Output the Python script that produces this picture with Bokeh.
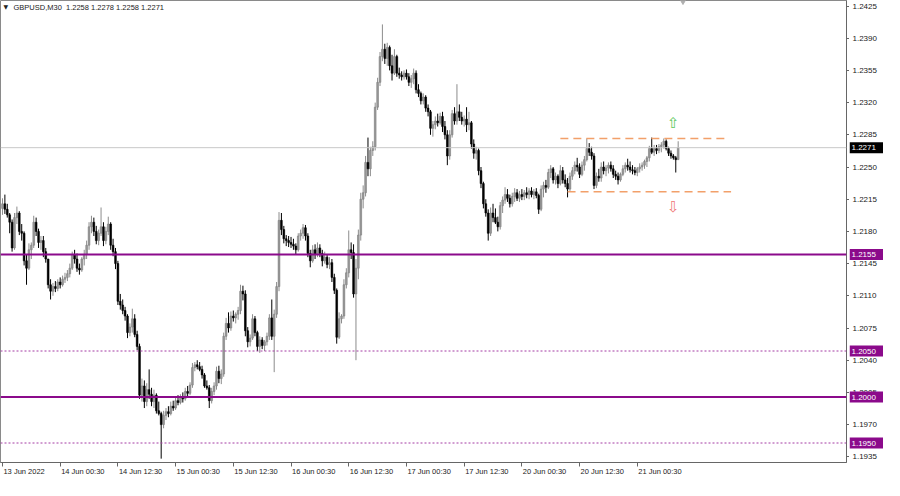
from bokeh.plotting import figure
from bokeh.layouts import row
from bokeh.models import ColumnDataSource, FixedTicker, Span, Label, Range1d, LinearAxis
from bokeh.core.properties import value
from bokeh.embed import file_html
from bokeh.resources import INLINE

symbol = "GBPUSD,M30"

# M30 candles, prices written as the last four digits (2205 -> 1.2205)
opens = [
    2205,2210,2204,2198,2190,2162,2195,2200,2180,2178,2148,2140,
    2160,2165,2190,2180,2168,2170,2158,2150,2122,2115,2120,2118,
    2125,2122,2128,2130,2134,2140,2155,2150,2140,2138,2150,2155,
    2165,2185,2190,2180,2170,2178,2185,2170,2180,2188,2165,2158,
    2145,2104,2100,2094,2088,2070,2076,2085,2068,2055,2002,2012,
    1995,2008,2003,1995,2002,1985,1982,1970,1980,1984,1982,1990,
    1988,1996,1994,2000,1998,2006,2004,2013,2032,2035,2033,2030,
    2024,2012,2010,1996,2006,2012,2028,2020,2025,2066,2080,2075,
    2088,2086,2090,2094,2115,2112,2072,2060,2064,2085,2070,2055,
    2062,2056,2060,2066,2086,2066,2090,2120,2192,2182,2172,2170,
    2168,2166,2164,2160,2175,2178,2184,2175,2156,2148,2160,2155,
    2162,2156,2148,2152,2144,2146,2130,2116,2065,2085,2088,2122,
    2135,2160,2157,2112,2140,2176,2215,2222,2255,2248,2268,2272,
    2315,2342,2370,2378,2368,2380,2360,2352,2370,2352,2350,2348,
    2352,2348,2342,2346,2352,2334,2330,2322,2326,2314,2310,2292,
    2296,2300,2298,2305,2294,2285,2262,2285,2308,2300,2310,2304,
    2300,2302,2296,2298,2275,2265,2268,2246,2232,2210,2200,2178,
    2200,2195,2190,2185,2208,2214,2220,2216,2210,2218,2222,2216,
    2220,2218,2222,2220,2224,2220,2223,2219,2204,2226,2230,2228,
    2244,2248,2236,2240,2232,2246,2236,2232,2226,2240,2246,2252,
    2250,2242,2252,2258,2270,2266,2262,2230,2240,2238,2250,2246,
    2249,2252,2248,2242,2240,2236,2242,2248,2252,2250,2247,2246,
    2244,2248,2250,2252,2256,2260,2270,2266,2270,2268,2272,2274,
    2278,2270,2265,2262,2260,2258,
]
highs = [
    2216,2220,2210,2200,2193,2200,2207,2202,2188,2180,2155,2167,
    2168,2197,2195,2183,2175,2175,2162,2150,2128,2124,2126,2128,
    2130,2132,2135,2138,2145,2158,2160,2156,2145,2152,2160,2170,
    2190,2197,2195,2186,2182,2206,2190,2185,2196,2190,2172,2162,
    2148,2112,2106,2098,2090,2080,2096,2090,2072,2058,2020,2018,
    2015,2030,2010,2008,2004,1995,1984,1985,1988,1990,1995,1996,
    2000,2002,2003,2005,2010,2012,2016,2037,2038,2040,2038,2034,
    2026,2018,2013,2010,2016,2033,2034,2030,2070,2086,2092,2093,
    2094,2092,2098,2122,2121,2116,2076,2068,2090,2088,2072,2066,
    2065,2062,2070,2090,2106,2095,2125,2201,2200,2186,2176,2175,
    2174,2172,2167,2178,2182,2188,2187,2178,2160,2165,2166,2168,
    2166,2160,2158,2155,2152,2150,2134,2118,2092,2090,2128,2140,
    2181,2168,2166,2150,2182,2222,2230,2262,2282,2272,2278,2320,
    2347,2375,2405,2384,2385,2382,2372,2378,2372,2358,2354,2355,
    2356,2352,2350,2357,2355,2340,2332,2330,2328,2318,2312,2300,
    2305,2308,2309,2310,2300,2290,2290,2312,2315,2340,2318,2310,
    2306,2315,2310,2300,2280,2272,2270,2250,2234,2215,2204,2206,
    2210,2205,2196,2212,2218,2228,2226,2220,2222,2227,2226,2224,
    2226,2225,2228,2227,2228,2226,2227,2221,2230,2234,2236,2248,
    2252,2250,2244,2242,2252,2250,2242,2238,2244,2250,2256,2260,
    2254,2256,2262,2281,2276,2272,2265,2244,2248,2255,2256,2252,
    2255,2256,2252,2246,2244,2244,2252,2255,2259,2256,2252,2250,
    2250,2254,2255,2258,2262,2273,2282,2274,2274,2275,2277,2281,
    2280,2272,2268,2264,2262,2278,
]
lows = [
    2198,2199,2195,2178,2158,2160,2188,2176,2170,2143,2122,2138,
    2150,2162,2175,2162,2160,2152,2146,2118,2106,2110,2114,2115,
    2118,2120,2124,2126,2130,2138,2145,2136,2133,2136,2143,2150,
    2160,2178,2175,2166,2165,2175,2164,2166,2176,2160,2153,2139,
    2100,2095,2090,2083,2064,2066,2070,2065,2051,1998,1995,1988,
    1990,1998,1990,1988,1982,1980,1933,1966,1975,1978,1980,1985,
    1986,1991,1992,1994,1996,2000,2002,2010,2028,2030,2028,2020,
    2010,2008,1988,1993,2002,2008,2015,2014,2022,2062,2070,2072,
    2082,2080,2084,2090,2105,2066,2054,2055,2062,2066,2050,2048,
    2052,2050,2056,2062,2062,2027,2086,2115,2176,2167,2164,2163,
    2162,2160,2155,2158,2170,2172,2170,2152,2141,2146,2150,2152,
    2152,2142,2145,2140,2139,2125,2112,2058,2063,2080,2085,2118,
    2130,2150,2108,2040,2128,2170,2205,2218,2240,2240,2262,2268,
    2312,2338,2365,2362,2360,2355,2344,2350,2348,2346,2344,2345,
    2345,2338,2336,2340,2330,2326,2318,2318,2310,2305,2285,2283,
    2291,2294,2296,2288,2280,2252,2258,2282,2296,2296,2300,2296,
    2294,2288,2290,2270,2259,2258,2241,2227,2205,2196,2170,2175,
    2190,2188,2180,2182,2200,2210,2212,2206,2207,2212,2213,2212,
    2214,2214,2216,2215,2217,2215,2216,2199,2202,2217,2222,2226,
    2238,2232,2231,2227,2230,2232,2228,2217,2224,2236,2242,2245,
    2238,2240,2246,2256,2262,2258,2226,2227,2234,2234,2242,2240,
    2243,2245,2238,2236,2231,2234,2240,2244,2246,2244,2242,2241,
    2240,2244,2246,2248,2250,2256,2264,2262,2264,2265,2266,2270,
    2268,2262,2259,2258,2244,2258,
]
closes = [
    2210,2204,2198,2190,2162,2195,2200,2180,2178,2148,2140,2160,
    2165,2190,2180,2168,2170,2158,2150,2122,2115,2120,2118,2125,
    2122,2128,2130,2134,2140,2155,2150,2140,2138,2150,2155,2165,
    2185,2190,2180,2170,2178,2185,2170,2180,2188,2165,2158,2145,
    2104,2100,2094,2088,2070,2076,2085,2068,2055,2002,2012,1995,
    2008,2003,1995,2002,1985,1982,1970,1980,1984,1982,1990,1988,
    1996,1994,2000,1998,2006,2004,2013,2032,2035,2033,2030,2024,
    2012,2010,1996,2006,2012,2028,2020,2025,2066,2080,2075,2088,
    2086,2090,2094,2115,2112,2072,2060,2064,2085,2070,2055,2062,
    2056,2060,2066,2086,2066,2090,2120,2192,2182,2172,2170,2168,
    2166,2164,2160,2175,2178,2184,2175,2156,2148,2160,2155,2162,
    2156,2148,2152,2144,2146,2130,2116,2065,2085,2088,2122,2135,
    2160,2157,2112,2140,2176,2215,2222,2255,2248,2268,2272,2315,
    2342,2370,2378,2368,2380,2360,2352,2370,2352,2350,2348,2352,
    2348,2342,2346,2352,2334,2330,2322,2326,2314,2310,2292,2296,
    2300,2298,2305,2294,2285,2262,2285,2308,2300,2310,2304,2300,
    2302,2296,2298,2275,2265,2268,2246,2232,2210,2200,2178,2200,
    2195,2190,2185,2208,2214,2220,2216,2210,2218,2222,2216,2220,
    2218,2222,2220,2224,2220,2223,2219,2204,2226,2230,2228,2244,
    2248,2236,2240,2232,2246,2236,2232,2226,2240,2246,2252,2250,
    2242,2252,2258,2270,2266,2262,2230,2240,2238,2250,2246,2249,
    2252,2248,2242,2240,2236,2242,2248,2252,2250,2247,2246,2244,
    2248,2250,2252,2256,2260,2270,2266,2270,2268,2272,2274,2278,
    2270,2265,2262,2260,2258,2271,
]

time_tick_bars = [0, 24, 48, 72, 96, 120, 144, 168, 192, 216, 240, 264]
time_tick_labels = ["13 Jun 2022", "14 Jun 00:30", "14 Jun 12:30", "15 Jun 00:30",
                    "15 Jun 12:30", "16 Jun 00:30", "16 Jun 12:30", "17 Jun 00:30",
                    "17 Jun 12:30", "20 Jun 00:30", "20 Jun 12:30", "21 Jun 00:30"]
price_ticks = [1.2425, 1.2390, 1.2355, 1.2320, 1.2285, 1.2250, 1.2215, 1.2180,
               1.2145, 1.2110, 1.2075, 1.2040, 1.2005, 1.1970, 1.1935]

solid_levels = [1.2155, 1.2000]
dotted_levels = [1.2050, 1.1950]
range_top = 1.2281
range_bottom = 1.2223
range_top_bars = [232, 301]
range_bottom_bars = [235, 303]
arrow_bar = 279
arrow_up_price = 1.2298
arrow_down_price = 1.2207

assert len(opens) == len(highs) == len(lows) == len(closes)

def to_price(v):
    return round(1 + v / 10000.0, 4)

O = [to_price(v) for v in opens]
H = [to_price(v) for v in highs]
L = [to_price(v) for v in lows]
C = [to_price(v) for v in closes]
idx = list(range(len(C)))

up = [i for i in idx if C[i] >= O[i]]
dn = [i for i in idx if C[i] < O[i]]

def src(sel):
    return ColumnDataSource(dict(
        x=[idx[i] for i in sel],
        top=[max(O[i], C[i]) for i in sel],
        bottom=[min(O[i], C[i]) for i in sel],
        high=[H[i] for i in sel],
        low=[L[i] for i in sel],
    ))

up_src = src(up)
dn_src = src(dn)

PURPLE = "#8b0a8b"
DOT_PURPLE = "#a43ca4"
FONT = "Liberation Sans"
XFS = 7.5
YFS = "8px"
X_START, X_END = -0.82, 351.0
Y_START, Y_END = 1.192881, 1.243098
FRAME_W, FRAME_H = 846, 462
SCALE_W = 34

y_range = Range1d(Y_START, Y_END)
p = figure(frame_width=FRAME_W, frame_height=FRAME_H, output_backend="svg", toolbar_location=None,
           x_range=Range1d(X_START, X_END), y_range=y_range,
           y_axis_location="right",
           min_border_left=0, min_border_top=0, min_border_right=0, min_border_bottom=0,
           background_fill_color="white", border_fill_color="white",
           outline_line_color="#8a8a8a")
p.grid.visible = False

# horizontal levels
for lv in solid_levels:
    p.add_layout(Span(location=lv, dimension="width", line_color=PURPLE, line_width=2))
for lv in dotted_levels:
    p.add_layout(Span(location=lv, dimension="width", line_color=DOT_PURPLE, line_width=1,
                      line_dash="2 2"))
p.add_layout(Span(location=C[-1], dimension="width", line_color="#c8c8c8", line_width=1))

# candles
BW = 0.72
p.segment(x0="x", x1="x", y0="low", y1="high", source=up_src, line_color="#8c8c8c", line_width=1)
p.vbar(x="x", top="top", bottom="bottom", width=BW, source=up_src,
       fill_color="#9a9a9a", line_color="#808080", line_width=0.6)
p.segment(x0="x", x1="x", y0="low", y1="high", source=dn_src, line_color="#000000", line_width=1)
p.vbar(x="x", top="top", bottom="bottom", width=BW, source=dn_src,
       fill_color="#000000", line_color="#000000", line_width=0.6)

# range lines and arrows
p.segment(x0=[range_top_bars[0], range_bottom_bars[0]], x1=[range_top_bars[1], range_bottom_bars[1]],
          y0=[range_top, range_bottom], y1=[range_top, range_bottom],
          line_color="#f2a06a", line_width=1.5, line_dash="8 5")
p.text(x=[arrow_bar], y=[arrow_up_price], text=["\u21e7"], text_color="#5cc85c",
       text_font=value("DejaVu Sans"), text_font_size="15px", text_align="center",
       text_baseline="middle")
p.text(x=[arrow_bar], y=[arrow_down_price], text=["\u21e9"], text_color="#f07878",
       text_font=value("DejaVu Sans"), text_font_size="15px", text_align="center",
       text_baseline="middle")

# shift marker
p.scatter(x=[len(C) + 1], y=[Y_END], marker="inverted_triangle", size=7,
          fill_color="#b0b0b0", line_color="#b0b0b0")

# time axis: tick marks at the bars, labels start at the tick (MetaTrader style)
xa = p.xaxis[0]
xa.ticker = FixedTicker(ticks=time_tick_bars)
xa.major_label_overrides = {b: "" for b in time_tick_bars}
xa.major_tick_in = 0
xa.major_tick_out = 4
xa.minor_tick_in = 0
xa.minor_tick_out = 0
xa.major_label_standoff = 0
xa.axis_line_color = "#666666"
xa.major_tick_line_color = "#666666"
xa.major_label_text_font_size = "1px"

char_w = {" ": 0.278, ":": 0.278, "J": 0.5, "u": 0.556, "n": 0.556}
px_per_bar = FRAME_W / (X_END - X_START)
label_pos = [b + (sum(char_w.get(c, 0.556) for c in lab) * XFS / 2 + 1) / px_per_bar
             for b, lab in zip(time_tick_bars, time_tick_labels)]
xb = LinearAxis(ticker=FixedTicker(ticks=label_pos),
                major_label_overrides={x: lab for x, lab in zip(label_pos, time_tick_labels)},
                axis_line_color=None, major_tick_line_color=None, minor_tick_line_color=None,
                major_tick_in=0, major_tick_out=0, minor_tick_in=0, minor_tick_out=0,
                major_label_standoff=0, major_label_text_font=FONT,
                major_label_text_font_size=f"{XFS}px", major_label_text_color="#222222")
p.add_layout(xb, "below")

# price axis: tick marks here, labels on the price scale column
ya = p.yaxis[0]
ya.ticker = FixedTicker(ticks=price_ticks)
ya.major_label_overrides = {t: "" for t in price_ticks}
ya.major_tick_in = 0
ya.major_tick_out = 3
ya.minor_tick_in = 0
ya.minor_tick_out = 0
ya.major_label_standoff = 0
ya.major_label_text_font_size = "1px"
ya.axis_line_color = "#666666"
ya.major_tick_line_color = "#666666"

# header
p.add_layout(Label(x=3, y=Y_END, x_units="screen", y_offset=-2, text="\u25bc",
                   text_align="left", text_baseline="top", text_color="#222222",
                   text_font="DejaVu Sans", text_font_size="6px"))
header = f"{symbol}\u00a0\u00a0{O[-1]:.4f} {H[-1]:.4f} {L[-1]:.4f} {C[-1]:.4f}"
p.add_layout(Label(x=13, y=Y_END, x_units="screen", y_offset=-2, text=header,
                   text_align="left", text_baseline="top", text_color="#222222",
                   text_font=FONT, text_font_size=f"{XFS}px"))

# price scale column (same y range)
s = figure(frame_width=SCALE_W, frame_height=FRAME_H, output_backend="svg", toolbar_location=None,
           x_range=Range1d(0, SCALE_W), y_range=y_range,
           min_border_left=0, min_border_top=0, min_border_right=0, min_border_bottom=0,
           background_fill_color="white", border_fill_color="white", outline_line_color=None)
s.axis.visible = False
s.grid.visible = False
s.text(x=[3] * len(price_ticks), y=price_ticks, text=[f"{t:.4f}" for t in price_ticks],
       text_font=value(FONT), text_font_size=YFS, text_color="#222222",
       text_align="left", text_baseline="middle")
box_levels = solid_levels + dotted_levels
s.rect(x=[SCALE_W / 2] * len(box_levels), y=box_levels, width=SCALE_W, height=11,
       height_units="screen", fill_color=PURPLE, line_color=None)
s.text(x=[2] * len(box_levels), y=box_levels, text=[f"{v:.4f}" for v in box_levels],
       text_font=value(FONT), text_font_size=YFS, text_color="white",
       text_align="left", text_baseline="middle")
s.rect(x=[SCALE_W / 2], y=[C[-1]], width=SCALE_W, height=11, height_units="screen",
       fill_color="#000000", line_color=None)
s.text(x=[2], y=[C[-1]], text=[f"{C[-1]:.4f}"],
       text_font=value(FONT), text_font_size=YFS, text_color="white",
       text_align="left", text_baseline="middle")

layout = row(p, s, spacing=0)
open("out.html", "w").write(file_html(layout, INLINE))
